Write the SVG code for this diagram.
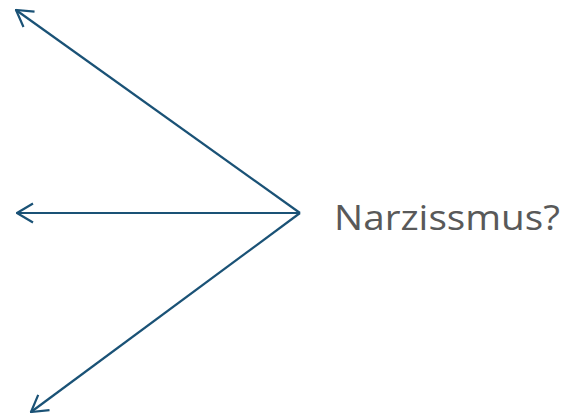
<svg xmlns="http://www.w3.org/2000/svg" width="577" height="418" viewBox="0 0 577 418">
<defs>
<marker id="arr" viewBox="0 -11 20 22" refX="1" refY="0" markerWidth="20" markerHeight="22" markerUnits="userSpaceOnUse" orient="auto">
<path d="M17,-9.5 L1,0 L17,9.5" fill="none" stroke="#1A5276" stroke-width="2.2"/>
</marker>
<style>
.c{stroke:#1A5276;stroke-width:2.2;fill:none;marker-start:url(#arr)}
.t{font-family:"Open Sans","Liberation Sans",sans-serif;font-size:35px;fill:#595959}
</style>
</defs>
<g id="connectors">
<line class="c" x1="16" y1="10" x2="300" y2="213"/>
<line class="c" x1="17" y1="213" x2="300" y2="213"/>
<line class="c" x1="31" y1="412" x2="300" y2="213"/>
</g>
<g id="node-narzissmus">
<text class="t" x="334" y="230" textLength="226" lengthAdjust="spacingAndGlyphs">Narzissmus?</text>
</g>
</svg>
